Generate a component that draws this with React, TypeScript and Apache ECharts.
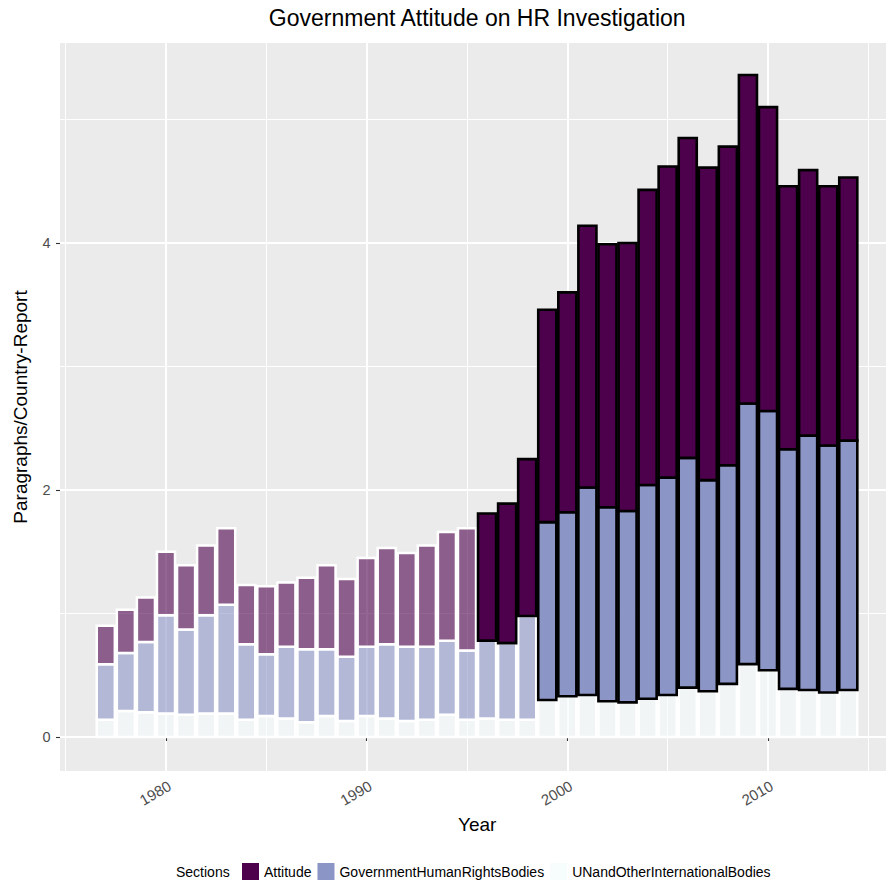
import React, { useEffect, useRef } from "react";
import * as echarts from "echarts";

// Report years and the paragraphs-per-country-report for each section
const YEARS = [
  1977, 1978, 1979, 1980, 1981, 1982, 1983, 1984, 1985, 1986, 1987, 1988, 1989,
  1990, 1991, 1992, 1993, 1994, 1995, 1996, 1997, 1998, 1999, 2000, 2001, 2002,
  2003, 2004, 2005, 2006, 2007, 2008, 2009, 2010, 2011, 2012, 2013, 2014,
];

const ATTITUDE = [
  0.31, 0.35, 0.36, 0.515, 0.52, 0.565, 0.62, 0.48, 0.55, 0.52, 0.58, 0.68, 0.63,
  0.72, 0.78, 0.76, 0.82, 0.88, 0.99, 1.03, 1.13, 1.27, 1.72, 1.78, 2.12, 2.13,
  2.17, 2.39, 2.52, 2.59, 2.53, 2.58, 2.66, 2.46, 2.13, 2.15, 2.1, 2.13,
];

const GOV_HR_BODIES = [
  0.45, 0.47, 0.57, 0.795, 0.69, 0.795, 0.88, 0.61, 0.5, 0.58, 0.59, 0.54, 0.52,
  0.56, 0.6, 0.6, 0.59, 0.6, 0.56, 0.63, 0.62, 0.84, 1.44, 1.49, 1.68, 1.57,
  1.55, 1.73, 1.76, 1.86, 1.71, 1.77, 2.11, 2.1, 1.94, 2.06, 2.0, 2.02,
];

const UN_INTL_BODIES = [
  0.14, 0.21, 0.2, 0.19, 0.18, 0.19, 0.19, 0.14, 0.17, 0.15, 0.12, 0.17, 0.13,
  0.17, 0.15, 0.13, 0.14, 0.18, 0.14, 0.15, 0.14, 0.14, 0.3, 0.33, 0.34, 0.29,
  0.28, 0.31, 0.34, 0.4, 0.37, 0.43, 0.59, 0.54, 0.39, 0.38, 0.36, 0.38,
];

// First year drawn at full strength for each section
const ATTITUDE_FROM = 1996;
const GOV_HR_FROM = 1999;
const UN_INTL_FROM = 9999;

const SECTION_NAMES = [
  "Attitude",
  "GovernmentHumanRightsBodies",
  "UNandOtherInternationalBodies",
];

const X_MAJOR = [1980, 1990, 2000, 2010];
const X_MINOR = [1975, 1985, 1995, 2005, 2015];
const Y_MAJOR = [0, 2, 4];
const Y_MINOR = [1, 3, 5];

const FONT = '"Liberation Sans", Arial, Helvetica, sans-serif';

// Axis extents (include ggplot-like padding around the data)
const X_MIN = 1974.718;
const X_MAX = 2016.3;
const Y_MIN = -0.2753;
const Y_MAX = 5.6194;
const PX_PER_YEAR = 20.067;
const BAR_WIDTH = 0.9;

const COLORS = {
  attitude: "#4D004B",
  attitudeFaded: "rgba(77,0,75,0.6)",
  gov: "#8C96C6",
  govFaded: "rgba(140,150,198,0.6)",
  un: "#F7FCFD",
  unFaded: "rgba(247,252,253,0.6)",
};

function buildRows(base: number[], values: number[], from: number) {
  return YEARS.map((year, i) => [
    year,
    base[i],
    base[i] + values[i],
    year >= from ? 1 : 0,
  ]);
}

function makeRenderer(full: string, faded: string) {
  return (_params: any, api: any) => {
    const year = api.value(0);
    const bottom = api.value(1);
    const top = api.value(2);
    const strong = api.value(3) === 1;
    const tl = api.coord([year - BAR_WIDTH / 2, top]);
    const br = api.coord([year + BAR_WIDTH / 2, bottom]);
    return {
      type: "rect",
      shape: { x: tl[0], y: tl[1], width: br[0] - tl[0], height: br[1] - tl[1] },
      style: {
        fill: strong ? full : faded,
        stroke: strong ? "#000000" : "#FFFFFF",
        lineWidth: strong ? 2.6 : 2.5,
      },
    };
  };
}

export default function App() {
  const ref = useRef<HTMLDivElement>(null);

  useEffect(() => {
    if (!ref.current) return;
    const chart = echarts.init(ref.current, undefined, { renderer: "svg" });

    const zeros = YEARS.map(() => 0);
    const unRows = buildRows(zeros, UN_INTL_BODIES, UN_INTL_FROM);
    const govBase = UN_INTL_BODIES.slice();
    const govRows = buildRows(govBase, GOV_HR_BODIES, GOV_HR_FROM);
    const attBase = UN_INTL_BODIES.map((v, i) => v + GOV_HR_BODIES[i]);
    const attRows = buildRows(attBase, ATTITUDE, ATTITUDE_FROM);

    const gridWidth = (X_MAX - X_MIN) * PX_PER_YEAR;
    const panelCenter = 60 + gridWidth / 2;

    const tickLabel = {
      color: "#4D4D4D",
      fontSize: 14.5,
      fontFamily: FONT,
      formatter: (v: number) => String(v),
    };

    chart.setOption({
      animation: false,
      backgroundColor: "#FFFFFF",
      textStyle: { fontFamily: FONT },
      grid: {
        left: 60,
        top: 43,
        width: gridWidth,
        height: 728,
        show: true,
        backgroundColor: "#EBEBEB",
        borderWidth: 0,
        containLabel: false,
        outerBoundsMode: "none",
      },
      xAxis: [
        {
          type: "value",
          min: X_MIN,
          max: X_MAX,
          position: "bottom",
          axisLine: { show: false },
          axisTick: {
            show: true,
            length: 4,
            customValues: X_MAJOR,
            lineStyle: { color: "#333333", width: 1.1 },
          },
          axisLabel: {
            ...tickLabel,
            fontSize: 15,
            customValues: X_MAJOR,
            rotate: 30,
            align: "right",
            verticalAlign: "top",
            margin: 7,
          },
          splitLine: { show: true, lineStyle: { color: "#FFFFFF", width: 2 } },
        },
        {
          type: "value",
          min: X_MIN,
          max: X_MAX,
          position: "bottom",
          axisLine: { show: false },
          axisTick: { show: false, customValues: X_MINOR },
          axisLabel: { show: false, customValues: X_MINOR },
          splitLine: { show: true, lineStyle: { color: "#FFFFFF", width: 1 } },
        },
      ],
      yAxis: [
        {
          type: "value",
          min: Y_MIN,
          max: Y_MAX,
          position: "left",
          axisLine: { show: false },
          axisTick: {
            show: true,
            length: 4,
            customValues: Y_MAJOR,
            lineStyle: { color: "#333333", width: 1.1 },
          },
          axisLabel: { ...tickLabel, customValues: Y_MAJOR, margin: 9.5 },
          splitLine: { show: true, lineStyle: { color: "#FFFFFF", width: 2 } },
        },
        {
          type: "value",
          min: Y_MIN,
          max: Y_MAX,
          position: "left",
          axisLine: { show: false },
          axisTick: { show: false, customValues: Y_MINOR },
          axisLabel: { show: false, customValues: Y_MINOR },
          splitLine: { show: true, lineStyle: { color: "#FFFFFF", width: 1 } },
        },
      ],
      legend: {
        left: 242,
        top: 863,
        padding: 0,
        itemWidth: 17,
        itemHeight: 17,
        itemGap: 6,
        icon: "rect",
        itemStyle: { borderWidth: 0 },
        textStyle: { color: "#000000", fontSize: 14, fontFamily: FONT },
        data: SECTION_NAMES,
      },
      series: [
        {
          type: "custom",
          name: SECTION_NAMES[2],
          xAxisIndex: 0,
          yAxisIndex: 0,
          data: unRows,
          encode: { x: 0, y: [1, 2] },
          itemStyle: { color: COLORS.un },
          renderItem: makeRenderer(COLORS.un, COLORS.unFaded),
        },
        {
          type: "custom",
          name: SECTION_NAMES[1],
          xAxisIndex: 0,
          yAxisIndex: 0,
          data: govRows,
          encode: { x: 0, y: [1, 2] },
          itemStyle: { color: COLORS.gov },
          renderItem: makeRenderer(COLORS.gov, COLORS.govFaded),
        },
        {
          type: "custom",
          name: SECTION_NAMES[0],
          xAxisIndex: 0,
          yAxisIndex: 0,
          data: attRows,
          encode: { x: 0, y: [1, 2] },
          itemStyle: { color: COLORS.attitude },
          renderItem: makeRenderer(COLORS.attitude, COLORS.attitudeFaded),
        },
      ],
      graphic: [
        {
          type: "text",
          x: panelCenter,
          y: 18,
          style: {
            text: "Government Attitude on HR Investigation",
            fontSize: 23,
            fontFamily: FONT,
            fill: "#000000",
            align: "center",
            verticalAlign: "middle",
          },
        },
        {
          type: "text",
          x: panelCenter,
          y: 824,
          style: {
            text: "Year",
            fontSize: 19,
            fontFamily: FONT,
            fill: "#000000",
            align: "center",
            verticalAlign: "middle",
          },
        },
        {
          type: "text",
          x: 20.5,
          y: 407,
          rotation: Math.PI / 2,
          style: {
            text: "Paragraphs/Country-Report",
            fontSize: 19,
            fontFamily: FONT,
            fill: "#000000",
            align: "center",
            verticalAlign: "middle",
          },
        },
        {
          type: "text",
          x: 176,
          y: 871.5,
          style: {
            text: "Sections",
            fontSize: 14,
            fontFamily: FONT,
            fill: "#000000",
            align: "left",
            verticalAlign: "middle",
          },
        },
      ],
    });

    return () => chart.dispose();
  }, []);

  return (
    <div
      ref={ref}
      style={{ position: "fixed", left: 0, top: 0, width: 886, height: 883 }}
    />
  );
}
